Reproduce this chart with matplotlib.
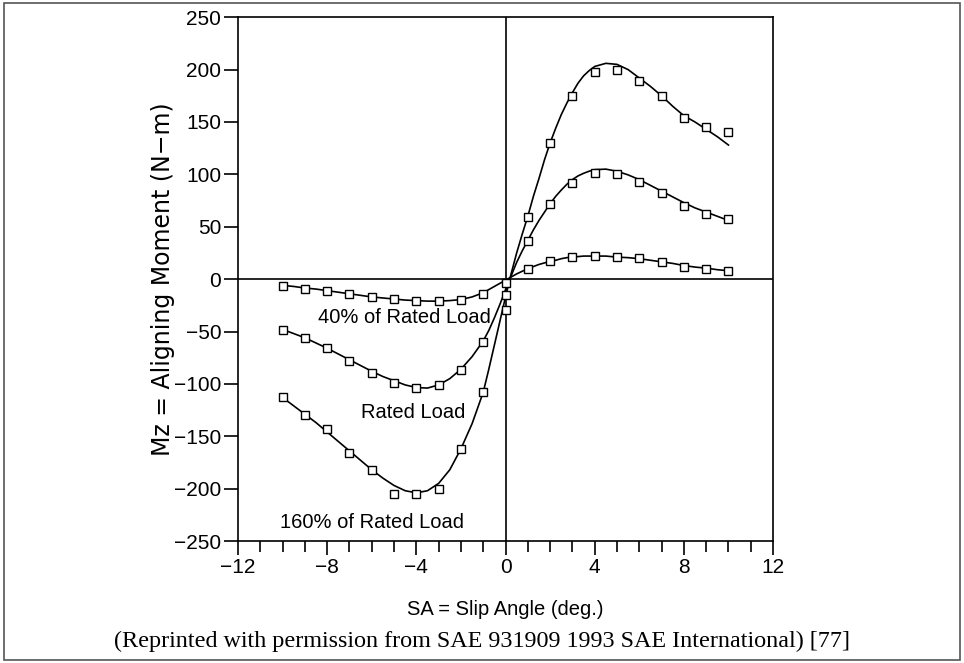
import matplotlib.pyplot as plt
from matplotlib.patches import Rectangle
from matplotlib.ticker import MultipleLocator

# measured points (slip angle in deg, aligning moment in N-m)
sa_pts = [-10, -9, -8, -7, -6, -5, -4, -3, -2, -1, 0, 1, 2, 3, 4, 5, 6, 7, 8, 9, 10]
mz_40 = [-7, -9, -11, -14, -17, -19, -20.5, -21, -20, -14, -4,
         10, 17, 21, 22, 21, 20, 16, 12, 10, 8]
mz_100 = [-49, -56, -66, -78, -90, -99, -104, -101, -87, -60, -15,
          36, 72, 92, 101, 100, 93, 82, 70, 62, 57]
mz_160 = [-113, -130, -143, -166, -182, -205, -205, -200, -162, -108, -29,
          59, 130, 175, 198, 200, 189, 175, 154, 145, 140]

# fitted curves
sa_fit = [-10, -9.5, -9, -8.5, -8, -7.5, -7, -6.5, -6, -5.5, -5, -4.5, -4, -3.5,
          -3, -2.5, -2, -1.5, -1, -0.75, -0.5, -0.25, 0, 0.25, 0.5, 0.75, 1,
          1.25, 1.5, 1.75, 2, 2.25, 2.5, 2.75, 3, 3.25, 3.5, 3.75, 4, 4.5, 5,
          5.5, 6, 6.5, 7, 7.5, 8, 8.5, 9, 9.5, 10]
fit_40 = [-6, -7, -8.5, -9.5, -11, -12.5, -14, -15.5, -17, -18, -19, -20, -20.5, -21,
          -21, -20.5, -19.5, -17, -13, -10, -7, -4, -1, 2, 5, 7.5, 10,
          12, 14, 15.5, 17, 18, 19.5, 20.5, 21, 21.5, 22, 22, 22, 22, 21,
          20.5, 19.5, 18, 16.5, 15, 13, 11.5, 10.5, 9, 8]
fit_100 = [-48, -52, -56, -61, -66, -71.5, -77, -82.5, -88, -93, -97, -101, -103.5, -104,
           -101, -95, -86, -74, -59, -49, -37, -24, -10, 3, 16, 27, 37,
           47, 56, 64, 72, 79, 85, 90.5, 95, 98.5, 101, 103, 104.5, 105, 103,
           99.5, 95, 89.5, 84, 78.5, 73, 68, 64, 60, 56]
fit_160 = [-113, -121, -129, -137, -146, -155, -164, -173, -182, -190, -197, -202, -204, -202,
           -195, -182, -162, -138, -108, -86, -63, -40, -17, 5, 25, 43, 60,
           79, 96, 114, 130, 144, 157, 168, 178, 187, 194, 199, 203, 206, 205,
           200, 192, 184, 175, 165, 156, 150, 143, 136, 128]

narrow = 'Liberation Sans'

fig = plt.figure(figsize=(9.64, 6.63), dpi=100)
ax = fig.add_axes([0.2469, 0.184, 0.555, 0.790])

for fit in (fit_40, fit_100, fit_160):
    ax.plot(sa_fit, fit, color='black', lw=1.2, zorder=3)
for pts in (mz_40, mz_100, mz_160):
    ax.plot(sa_pts, pts, ls='none', marker='s', ms=5.5, mfc='white',
            mec='black', mew=1.0, zorder=4)

ax.axhline(0, color='black', lw=1.2, zorder=2)
ax.axvline(0, color='black', lw=1.2, zorder=2)

ax.text(-4.55, -37, '40% of Rated Load', ha='center', va='center', fontsize=14.5, family=narrow)
ax.text(-4.15, -127, 'Rated Load', ha='center', va='center', fontsize=14.5, family=narrow)
ax.text(-6.0, -232, '160% of Rated Load', ha='center', va='center', fontsize=14.5, family=narrow)

ax.set_xlim(-12, 12)
ax.set_ylim(-250, 250)
ax.xaxis.set_major_locator(MultipleLocator(4))
ax.xaxis.set_minor_locator(MultipleLocator(1))
ax.yaxis.set_major_locator(MultipleLocator(50))
ax.tick_params(axis='both', which='major', direction='out', length=10, width=1.2,
               labelsize=15, pad=2)
ax.tick_params(axis='x', which='minor', direction='out', length=8, width=1.2)
for lab in ax.get_xticklabels() + ax.get_yticklabels():
    lab.set_family(narrow)
for sp in ax.spines.values():
    sp.set_linewidth(1.2)

ax.set_xlabel('SA = Slip Angle (deg.)', fontsize=14.5, family=narrow)
ax.xaxis.set_label_coords(0.5, -0.113)
ax.set_ylabel('Mz = Aligning Moment (N\u2212m)', fontsize=17)
ax.yaxis.set_label_coords(-0.118, 0.5)

fig.text(0.5, 0.033, '(Reprinted with permission from SAE 931909 1993 SAE International) [77]',
         ha='center', va='center', fontsize=17.4, family='Liberation Serif')

fig.patches.append(Rectangle((0.004, 0.004), 0.992, 0.991, transform=fig.transFigure,
                             fill=False, edgecolor='#555555', lw=1.2))

fig.savefig('out.png', dpi=100)
